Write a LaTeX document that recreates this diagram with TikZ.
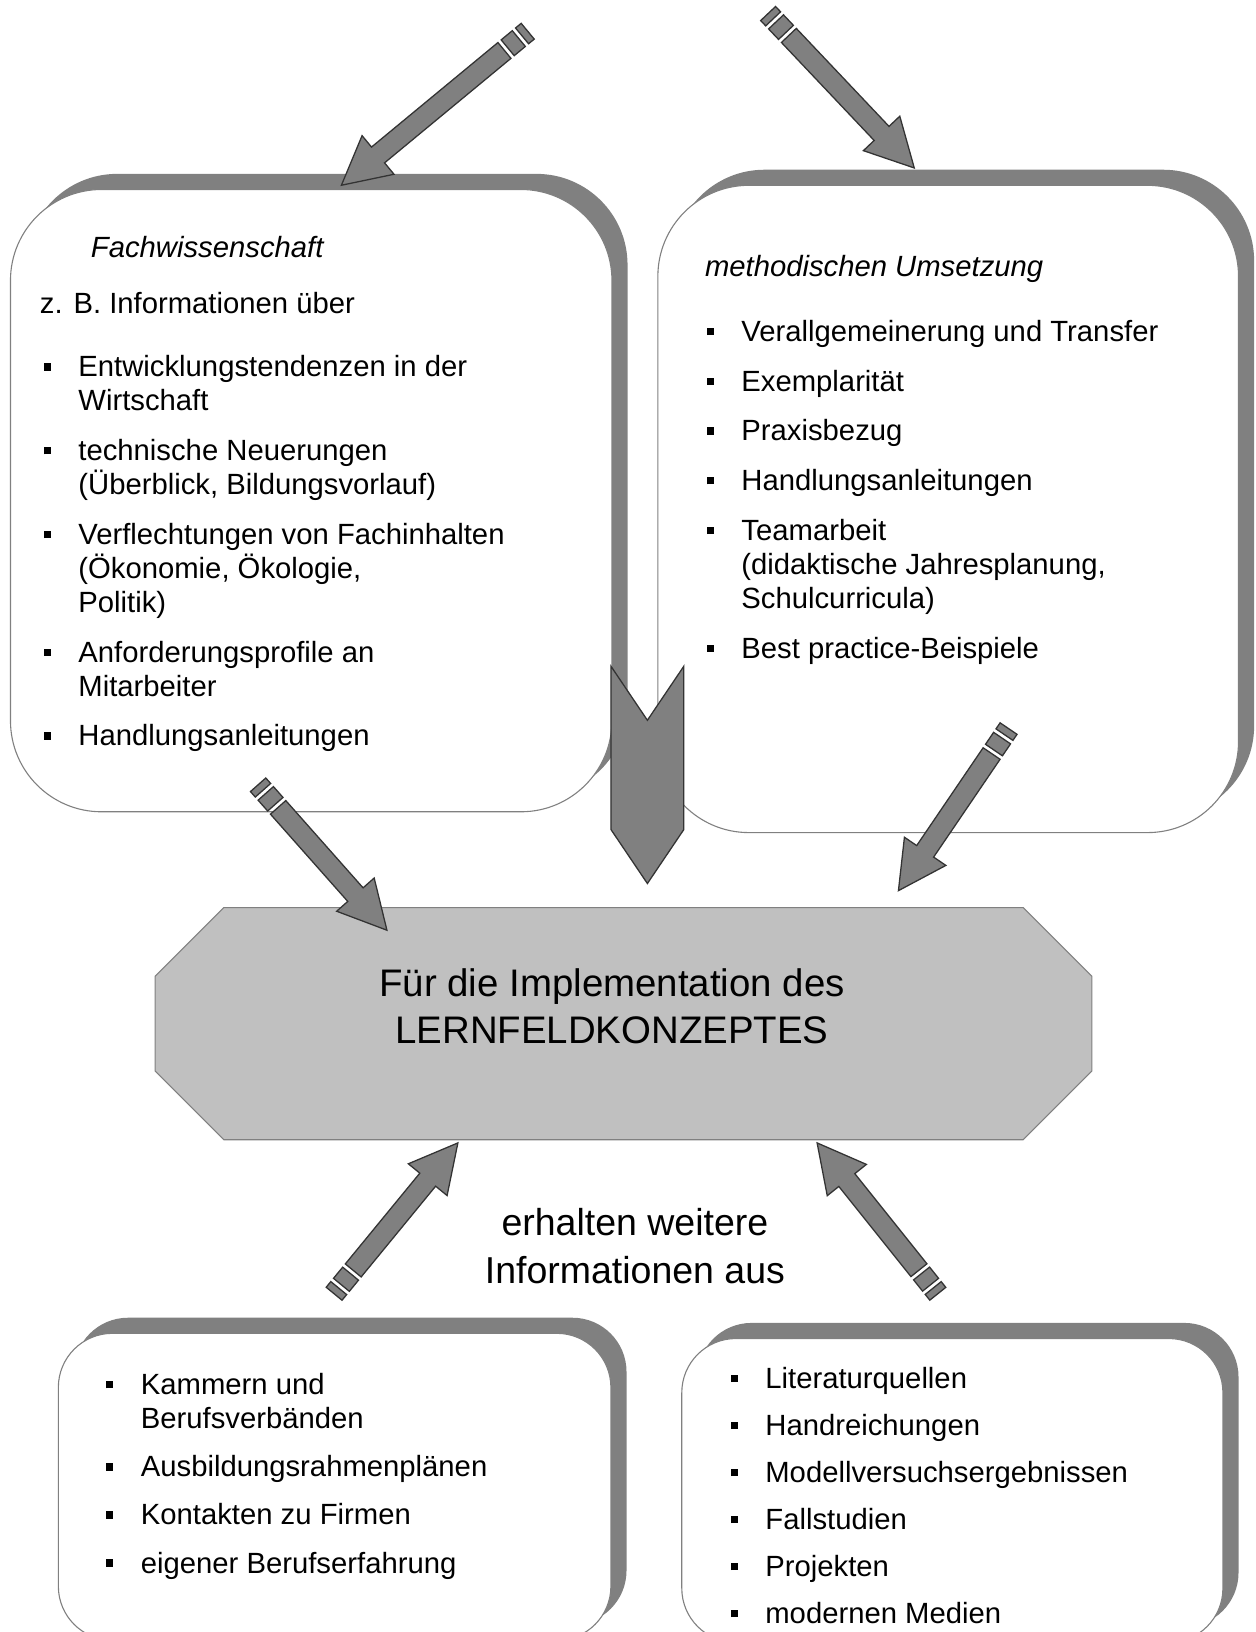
\documentclass[tikz,border=0pt]{standalone}
\usepackage{fontspec}
\setmainfont{Liberation Sans}
\usetikzlibrary{positioning, shapes.symbols, shadows, calc}
\definecolor{boxrand}{RGB}{128,128,128}
\definecolor{schatten}{RGB}{128,128,128}
\definecolor{pfeilgrau}{RGB}{128,128,128}
\definecolor{pfeilrand}{RGB}{51,51,51}
\definecolor{implgrau}{RGB}{192,192,192}

\tikzset{
  roundbox/.style={rectangle, rounded corners=#1, fill=white, draw=boxrand, line width=0.6pt,
    drop shadow={shadow xshift=0.3cm, shadow yshift=0.3cm, fill=schatten, opacity=1}},
  implbox/.style={fill=implgrau, draw=boxrand, line width=0.6pt},
  blockarrow/.style={fill=pfeilgrau, draw=pfeilrand, line width=0.7pt, line join=miter},
  chevron/.style={signal, signal to=south, signal from=north, signal pointer angle=68,
    minimum width=1.4cm, minimum height=2.1cm, inner sep=0pt, blockarrow},
  boxtext/.style={anchor=base west, inner sep=0pt, font=\fontsize{16pt}{18.6pt}\selectfont},
  bigtext/.style={align=center, inner sep=0pt, font=\fontsize{21pt}{25.6pt}\selectfont},
}

% square bullet hanging left of the text
\newcommand{\sq}{\leavevmode\llap{\rule[3.4pt]{4pt}{4pt}\hspace{15pt}}}

% striped block arrow from tail coordinate #1 to tip coordinate #2
\newcommand{\stripearrow}[2]{%
  \pgfpointdiff{\pgfpointanchor{#1}{center}}{\pgfpointanchor{#2}{center}}%
  \pgfgetlastxy{\sadx}{\sady}%
  \pgfmathsetmacro{\saang}{atan2(\sady,\sadx)}%
  \pgfmathsetmacro{\salen}{veclen(\sadx,\sady)}%
  \pgfmathsetmacro{\sahead}{\salen-26}%
  \begin{scope}[shift={(#1)}, rotate=\saang]
    \draw[blockarrow] (0pt,-5.6pt) rectangle (4pt,5.6pt);
    \draw[blockarrow] (6.3pt,-5.6pt) rectangle (14.2pt,5.6pt);
    \draw[blockarrow] (16.5pt,-5.6pt) -- (\sahead pt,-5.6pt) -- (\sahead pt,-13.7pt)
      -- (\salen pt,0pt) -- (\sahead pt,13.7pt) -- (\sahead pt,5.6pt) -- (16.5pt,5.6pt) -- cycle;
  \end{scope}
}

\begin{document}
\begin{tikzpicture}[x=0.02cm, y=-0.02cm]
  \useasboundingbox (0,0) rectangle (1206,1568);
  \clip (0,0) rectangle (1206,1568);
  \fill[white] (0,0) rectangle (1206,1568);

  % boxes
  \node[roundbox=1.75cm, minimum width=11.56cm, minimum height=11.96cm] (fach) at (299,481) {};
  \node[roundbox=1.75cm, minimum width=11.16cm, minimum height=12.44cm] (meth) at (911,489) {};
  \node[roundbox=1.04cm, minimum width=10.62cm, minimum height=5.9cm] (kammer) at (321.5,1428.5) {};
  \node[roundbox=1.04cm, minimum width=10.4cm, minimum height=5.84cm] (quellen) at (915,1432) {};

  % octagon in the middle
  \coordinate (impl) at (599,983.5);
  \draw[implbox] (impl) ++(-384,-111.5) -- ++(768,0) -- ++(66,66) -- ++(0,91) -- ++(-66,66)
    -- ++(-768,0) -- ++(-66,-66) -- ++(0,-91) -- cycle;

  % big arrow between the upper boxes
  \node[chevron] (chev) at (622,744.5) {};

  % striped arrows
  \coordinate (a1t) at (507,30);   \coordinate (a1s) at (328,178);
  \coordinate (a2t) at (738,13);   \coordinate (a2s) at (879,162);
  \coordinate (a3t) at (248,754);  \coordinate (a3s) at (372,894);
  \coordinate (a4t) at (969,700);  \coordinate (a4s) at (863,856);
  \coordinate (a5t) at (321,1243); \coordinate (a5s) at (440,1098);
  \coordinate (a6t) at (901,1243); \coordinate (a6s) at (785,1098);
  \stripearrow{a1t}{a1s}
  \stripearrow{a2t}{a2s}
  \stripearrow{a3t}{a3s}
  \stripearrow{a4t}{a4s}
  \stripearrow{a5t}{a5s}
  \stripearrow{a6t}{a6s}

  % texts
  \node[boxtext] (fachtitel) at (87,247) {\itshape Fachwissenschaft};
  \node[boxtext] (fachintro) at (38,301) {z. B. Informationen über};
  \node[boxtext] (fachliste) at (75,362) {\begin{minipage}[t]{10cm}\raggedright
    \sq Entwicklungstendenzen in der\\ Wirtschaft\\[8.6pt]
    \sq technische Neuerungen\\ (Überblick, Bildungsvorlauf)\\[8.6pt]
    \sq Verflechtungen von Fachinhalten\\ (Ökonomie, Ökologie,\\ Politik)\\[8.6pt]
    \sq Anforderungsprofile an\\ Mitarbeiter\\[8.6pt]
    \sq Handlungsanleitungen
  \end{minipage}};

  \node[boxtext] (methtitel) at (677,266) {\itshape methodischen Umsetzung};
  \node[boxtext] (methliste) at (712,328) {\begin{minipage}[t]{9cm}\raggedright
    \sq Verallgemeinerung und Transfer\\[8.6pt]
    \sq Exemplarität\\[8.6pt]
    \sq Praxisbezug\\[8.6pt]
    \sq Handlungsanleitungen\\[8.6pt]
    \sq Teamarbeit\\ (didaktische Jahresplanung,\\ Schulcurricula)\\[8.6pt]
    \sq Best practice-Beispiele
  \end{minipage}};

  \node[bigtext] (impltext) at (588,967) {Für die Implementation des\\ LERNFELDKONZEPTES};
  \node[bigtext, font=\fontsize{20.5pt}{26.2pt}\selectfont] (erhalten) at (610,1197) {erhalten weitere\\ Informationen aus};

  \node[boxtext] (kammerliste) at (135,1340) {\begin{minipage}[t]{9cm}\raggedright
    \sq Kammern und\\ Berufsverbänden\\[7.7pt]
    \sq Ausbildungsrahmenplänen\\[7.7pt]
    \sq Kontakten zu Firmen\\[7.7pt]
    \sq eigener Berufserfahrung
  \end{minipage}};

  \node[boxtext] (quellenliste) at (735,1334) {\begin{minipage}[t]{8cm}\raggedright
    \sq Literaturquellen\\[7.1pt]
    \sq Handreichungen\\[7.1pt]
    \sq Modellversuchsergebnissen\\[7.1pt]
    \sq Fallstudien\\[7.1pt]
    \sq Projekten\\[7.1pt]
    \sq modernen Medien
  \end{minipage}};
\end{tikzpicture}
\end{document}
